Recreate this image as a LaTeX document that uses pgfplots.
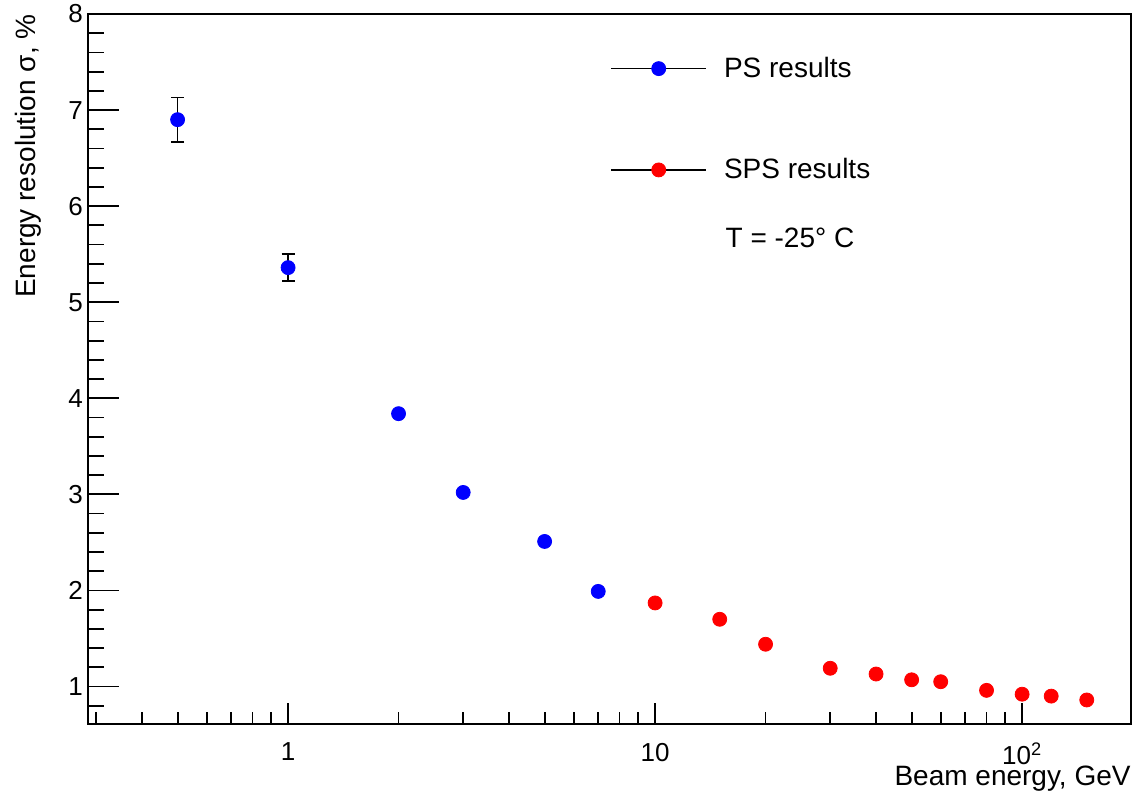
\documentclass[border=0pt]{standalone}
\usepackage{fontspec}
\setmainfont{Liberation Sans}
\usepackage{pgfplots}
\pgfplotsset{compat=1.18}

\newcommand{\rootfont}{\fontsize{14}{16}\selectfont}
\newcommand{\tickfont}{\fontsize{13}{15}\selectfont}

\begin{document}
\begin{tikzpicture}
% y axis, data and legend
\begin{axis}[
    width=521.5pt, height=355pt, scale only axis,
    xmode=log, xmin=0.285, xmax=198, ymin=0.61, ymax=8,
    axis line style={line width=0.9pt},
    tick style={black, line width=0.9pt},
    tick align=inside,
    tick label style={font=\tickfont},
    /pgf/number format/assume math mode=true,
    xtick=\empty,
    ytick={1,2,3,4,5,6,7,8}, ytick pos=left,
    minor ytick={0.8,1.2,1.4,1.6,1.8,2.2,2.4,2.6,2.8,3.2,3.4,3.6,3.8,4.2,4.4,4.6,4.8,5.2,5.4,5.6,5.8,6.2,6.4,6.6,6.8,7.2,7.4,7.6,7.8},
    major tick length=15.5pt, minor tick length=8pt,
    yticklabel style={xshift=1pt},
    ylabel={Energy resolution σ, \%},
    ylabel style={at={(rel axis cs:-0.0575,1)}, anchor=east, inner sep=0pt, font=\rootfont},
    legend cell align=left,
    legend style={draw=none, fill=none, inner sep=0pt, row sep=39pt, column sep=8.5pt,
      nodes={inner sep=0pt}, font=\rootfont,
      at={(rel axis cs:0.5005,0.940)}, anchor=north west},
  ]
  % error bars of the PS points, drawn under the markers
  \addplot[forget plot, only marks, mark=none,
    error bars/.cd, y dir=both, y explicit,
    error bar style={black, line width=0.8pt},
    error mark options={rotate=90, mark size=3.25pt, black, line width=0.8pt}]
    table[x=E, y=s, y error=err] {
E   s    err
0.5 6.90 0.23
1   5.36 0.14
};
  \addplot[only marks, mark=*, color=blue, mark size=3.5pt, mark options={fill=blue, draw=blue},
    legend image code/.code={
      \draw[black, line width=0.8pt] (0pt,0pt) -- (47.5pt,0pt);
      \draw[blue, mark=*, mark size=3.5pt, mark options={fill=blue}] plot coordinates {(23.75pt,0pt)};
    }]
    table[x=E, y=s] {
E   s
0.5 6.90
1   5.36
2   3.84
3   3.02
5   2.51
7   1.99
};
  \addlegendentry{PS results}
  \addplot[only marks, mark=*, color=red, mark size=3.5pt, mark options={fill=red, draw=red},
    legend image code/.code={
      \draw[black, line width=0.8pt] (0pt,0pt) -- (47.5pt,0pt);
      \draw[red, mark=*, mark size=3.5pt, mark options={fill=red}] plot coordinates {(23.75pt,0pt)};
    }]
    table[x=E, y=s] {
E   s
10  1.87
15  1.70
20  1.44
30  1.19
40  1.13
50  1.07
60  1.05
80  0.96
100 0.92
120 0.90
150 0.86
};
  \addlegendentry{SPS results}
  \node[anchor=west, inner sep=0pt, font=\rootfont] at (rel axis cs:0.611,0.685) {T = -25° C};
\end{axis}
% x axis: shorter ticks, labels
\begin{axis}[
    width=521.5pt, height=355pt, scale only axis,
    xmode=log, xmin=0.285, xmax=198, ymin=0.61, ymax=8,
    axis line style={line width=0.9pt},
    tick style={black, line width=0.9pt},
    tick align=inside,
    tick label style={font=\tickfont},
    ytick=\empty,
    xtick={1,10,100}, xticklabels={1,10,10\textsuperscript{2}}, xtick pos=left,
    minor xtick={0.3,0.4,0.5,0.6,0.7,0.8,0.9,2,3,4,5,6,7,8,9,20,30,40,50,60,70,80,90},
    major tick length=10.5pt, minor tick length=6pt,
    xticklabel style={inner sep=0.5pt, yshift=-8.8pt},
    xlabel={Beam energy, GeV},
    xlabel style={at={(rel axis cs:1,-0.077)}, anchor=east, inner sep=0pt, font=\rootfont},
  ]
\end{axis}
\pgfresetboundingbox
\path (-44pt,-33.5pt) rectangle (524.5pt,362pt);
\end{tikzpicture}
\end{document}
